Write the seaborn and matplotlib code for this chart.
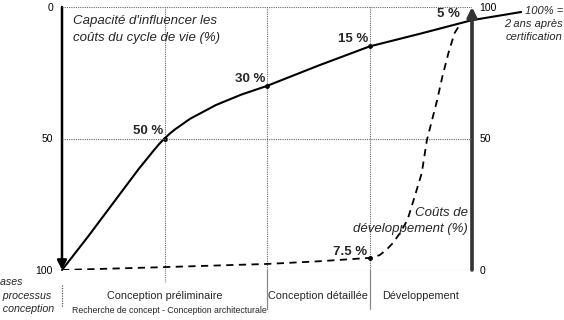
import matplotlib
matplotlib.use("Agg")
import matplotlib.pyplot as plt
import seaborn as sns

# capacité d'influencer les coûts (axe gauche, 0 en haut)
capa_x = [0, 0.25, 0.5, 0.75, 0.9, 0.95, 1.0, 1.05, 1.1, 1.25, 1.5, 1.75, 2.0, 2.5, 3.0, 3.5, 4.0, 4.48]
capa_y = [100, 87.5, 74.5, 61.5, 54.3, 52.0, 50, 48.2, 46.6, 42.5, 37.3, 33.3, 30, 22.3, 15, 10.1, 5, 1.9]
# coûts de développement (axe droit, 0 en bas)
cout_x = [0, 1, 2, 2.5, 3, 3.05, 3.10, 3.16, 3.23, 3.30, 3.37, 3.44, 3.51, 3.56, 3.61, 3.66, 3.71, 3.77, 3.83, 3.88]
cout_y = [0, 1.1, 2.3, 3.3, 4.6, 5.0, 5.7, 7.5, 10.3, 14.2, 19, 27.8, 36.9, 49.4, 57, 64.6, 73.4, 82.5, 90.1, 93.2]

capa_pts_x = [1, 2, 3, 3.9]
capa_pts_y = [50, 30, 15, 5.6]
capa_pts_lbl = ["50 %", "30 %", "15 %", "5 %"]
cout_pts_x = [3]
cout_pts_y = [4.6]
cout_pts_lbl = ["7.5 %"]

phases = ["Conception préliminaire", "Conception détaillée", "Développement"]
phase_bornes = [0, 2, 3, 4]
sous_phase = "Recherche de concept - Conception architecturale"
ticks = [0, 50, 100]

sns.set_theme(style="white")
plt.rcParams["font.family"] = ["Liberation Sans", "DejaVu Sans"]

W, H = 564, 320
fig = plt.figure(figsize=(W / 100, H / 100), dpi=100)
ax = fig.add_axes([62 / W, 50 / H, 410 / W, 263 / H])
ax.set_xlim(0, 4)
ax.set_ylim(100, 0)
ax2 = ax.twinx()
ax2.set_ylim(0, 100)

for a in (ax, ax2):
    for s in a.spines.values():
        s.set_visible(False)
    a.grid(False)
    a.set_xticks([])

dot = (0, (1, 1))
for t in ticks:
    ax2.axhline(t, color="#666666", lw=0.8, ls=dot, zorder=1)
for b in phase_bornes[1:-1] + [1]:
    ax.axvline(b, color="#666666", lw=0.8, ls=dot, zorder=1)

# prolongements sous l'axe
xt = ax.get_xaxis_transform()
ax.plot([1, 1], [0, -0.046], transform=xt, color="#777777", lw=0.8, ls=dot, clip_on=False)
for b in phase_bornes[1:-1]:
    ax.plot([b, b], [0, -0.15], transform=xt, color="#888888", lw=0.9, clip_on=False)
ax.plot([0, 0], [-0.057, -0.141], transform=xt, color="#555555", lw=0.9, ls=dot, clip_on=False)

# axes fléchés
ax.annotate("", xy=(0, 0), xytext=(0, 1), xycoords="axes fraction",
            arrowprops=dict(arrowstyle="-|>", color="black", lw=1.8, mutation_scale=14,
                            shrinkA=0, shrinkB=0), annotation_clip=False, zorder=5)
ax.annotate("", xy=(1, 1.0), xytext=(1, 0), xycoords="axes fraction",
            arrowprops=dict(arrowstyle="-|>", color="#333333", lw=2.6, mutation_scale=14,
                            shrinkA=0, shrinkB=0), annotation_clip=False, zorder=5)

sns.lineplot(x=capa_x, y=capa_y, ax=ax, color="black", lw=1.5, clip_on=False, zorder=4)
sns.lineplot(x=cout_x, y=cout_y, ax=ax2, color="black", lw=1.3, ls=(0, (4, 3)), zorder=4)

ax.scatter(capa_pts_x[:3], capa_pts_y[:3], s=6, color="black", zorder=6)
ax2.scatter(cout_pts_x, cout_pts_y, s=6, color="black", zorder=6)
for x, y, l in zip(capa_pts_x, capa_pts_y, capa_pts_lbl):
    ax.annotate(l, (x, y), xytext=(-1, 1), textcoords="offset points", ha="right",
                va="bottom", fontsize=9.5, fontweight="bold")
for x, y, l in zip(cout_pts_x, cout_pts_y, cout_pts_lbl):
    ax2.annotate(l, (x, y), xytext=(-2, 0), textcoords="offset points", ha="right",
                 va="bottom", fontsize=9.5, fontweight="bold")

ax.set_yticks(ticks)
ax2.set_yticks(ticks)
ax.tick_params(axis="y", length=0, pad=6.5, labelsize=7.5, colors="black")
ax2.tick_params(axis="y", length=0, pad=5.5, labelsize=7.5, colors="black")
ax.set_ylabel("")
ax2.set_ylabel("")

# phases du processus
for i, p in enumerate(phases):
    c = (phase_bornes[i] + phase_bornes[i + 1]) / 2
    ax.text(c, -0.1, p, transform=xt, ha="center", va="center", fontsize=7.8)
ax.text(1.05, -0.155, sous_phase, transform=xt, ha="center", va="center", fontsize=6.3)

fig.text(73 / W, 1 - 15 / H, "Capacité d'influencer les\ncoûts du cycle de vie (%)",
         ha="left", va="top", fontsize=9.5, style="italic", linespacing=1.5)
fig.text(563 / W, 1 - 6 / H, "100% =\n2 ans après\ncertification",
         ha="right", va="top", fontsize=8, style="italic", linespacing=1.4)
fig.text(468 / W, 1 - 207 / H, "Coûts de\ndéveloppement (%)",
         ha="right", va="top", fontsize=9.5, style="italic", linespacing=1.45)
fig.text(-12 / W, 1 - 277 / H, "Phases\ndu processus\nde conception",
         ha="left", va="top", fontsize=7.7, style="italic", linespacing=1.45)

fig.savefig("out.png", dpi=100)
